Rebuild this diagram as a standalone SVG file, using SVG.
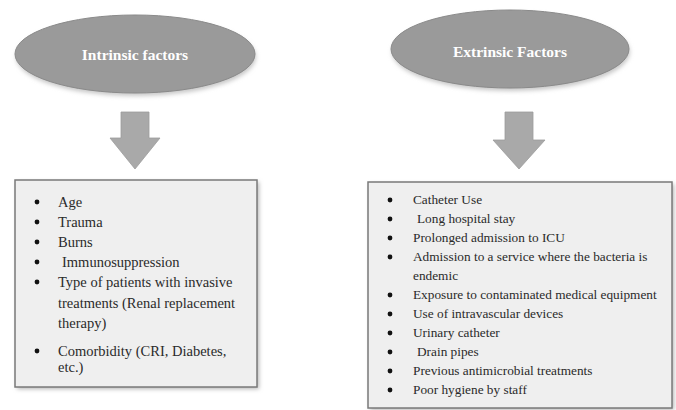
<svg xmlns="http://www.w3.org/2000/svg" width="676" height="410" viewBox="0 0 676 410">
<defs>
<style>
.ell{fill:#9a9a9a;stroke:#8a8a8a;stroke-width:1}
.etxt{font-family:"Liberation Serif",serif;font-weight:bold;font-size:15.5px;fill:#ffffff;text-anchor:middle}
.arrow{fill:#a9a9a9;stroke:#9c9c9c;stroke-width:0.8}
.box{fill:#efefef;stroke:#7a7a7a;stroke-width:1.5}
.shadow{fill:#b5b5b5}
.t{font-family:"Liberation Serif",serif;font-size:14.5px;fill:#2a2a2a}
.r{font-family:"Liberation Serif",serif;font-size:13.3px;fill:#2a2a2a}
.b{fill:#111}
</style>
<filter id="blur" x="-10%" y="-10%" width="120%" height="130%"><feGaussianBlur stdDeviation="2"/></filter>
</defs>
<rect width="676" height="410" fill="#ffffff"/>

<g id="intrinsic">
<ellipse cx="136" cy="57" rx="120" ry="39" fill="#c8c8c8" filter="url(#blur)"/>
<ellipse class="ell" cx="135" cy="54" rx="120" ry="39"/>
<text class="etxt" x="135" y="60">Intrinsic factors</text>
</g>

<g id="extrinsic">
<ellipse cx="511" cy="52" rx="119" ry="39" fill="#c8c8c8" filter="url(#blur)"/>
<ellipse class="ell" cx="510" cy="49" rx="119" ry="39"/>
<text class="etxt" x="510" y="57">Extrinsic Factors</text>
</g>

<g id="connectors">
<path class="arrow" d="M121,112 H149 V138 H160 L135,169 L110,138 H121 Z"/>
<path class="arrow" d="M505,112 H533 V140 H545 L519,169 L493,140 H505 Z"/>
</g>

<g id="intrinsic-list">
<rect class="shadow" x="17" y="182" width="242" height="207" filter="url(#blur)"/>
<rect class="box" x="15" y="180" width="242" height="207"/>
<circle class="b" cx="37" cy="202" r="2.4"/>
<circle class="b" cx="37" cy="222" r="2.4"/>
<circle class="b" cx="37" cy="242" r="2.4"/>
<circle class="b" cx="37" cy="262" r="2.4"/>
<circle class="b" cx="37" cy="282" r="2.4"/>
<circle class="b" cx="37" cy="351" r="2.4"/>
<text class="t" x="58" y="207">Age</text>
<text class="t" x="58" y="227">Trauma</text>
<text class="t" x="58" y="247">Burns</text>
<text class="t" x="62" y="267">Immunosuppression</text>
<text class="t" x="58" y="287">Type of patients with invasive</text>
<text class="t" x="58" y="308">treatments (Renal replacement</text>
<text class="t" x="58" y="328">therapy)</text>
<text class="t" x="58" y="356">Comorbidity (CRI, Diabetes,</text>
<text class="t" x="58" y="372">etc.)</text>
</g>

<g id="extrinsic-list">
<rect class="shadow" x="370" y="184" width="304" height="226" filter="url(#blur)"/>
<rect class="box" x="368" y="182" width="304" height="226"/>
<circle class="b" cx="390" cy="200" r="2.4"/>
<circle class="b" cx="390" cy="219" r="2.4"/>
<circle class="b" cx="390" cy="238" r="2.4"/>
<circle class="b" cx="390" cy="257" r="2.4"/>
<circle class="b" cx="390" cy="295" r="2.4"/>
<circle class="b" cx="390" cy="314" r="2.4"/>
<circle class="b" cx="390" cy="333" r="2.4"/>
<circle class="b" cx="390" cy="352" r="2.4"/>
<circle class="b" cx="390" cy="371" r="2.4"/>
<circle class="b" cx="390" cy="390" r="2.4"/>
<text class="r" x="413" y="204">Catheter Use</text>
<text class="r" x="417" y="223">Long hospital stay</text>
<text class="r" x="413" y="242">Prolonged admission to ICU</text>
<text class="r" x="413" y="261">Admission to a service where the bacteria is</text>
<text class="r" x="413" y="280">endemic</text>
<text class="r" x="413" y="299">Exposure to contaminated medical equipment</text>
<text class="r" x="413" y="318">Use of intravascular devices</text>
<text class="r" x="413" y="337">Urinary catheter</text>
<text class="r" x="417" y="356">Drain pipes</text>
<text class="r" x="413" y="375">Previous antimicrobial treatments</text>
<text class="r" x="413" y="394">Poor hygiene by staff</text>
</g>
</svg>
